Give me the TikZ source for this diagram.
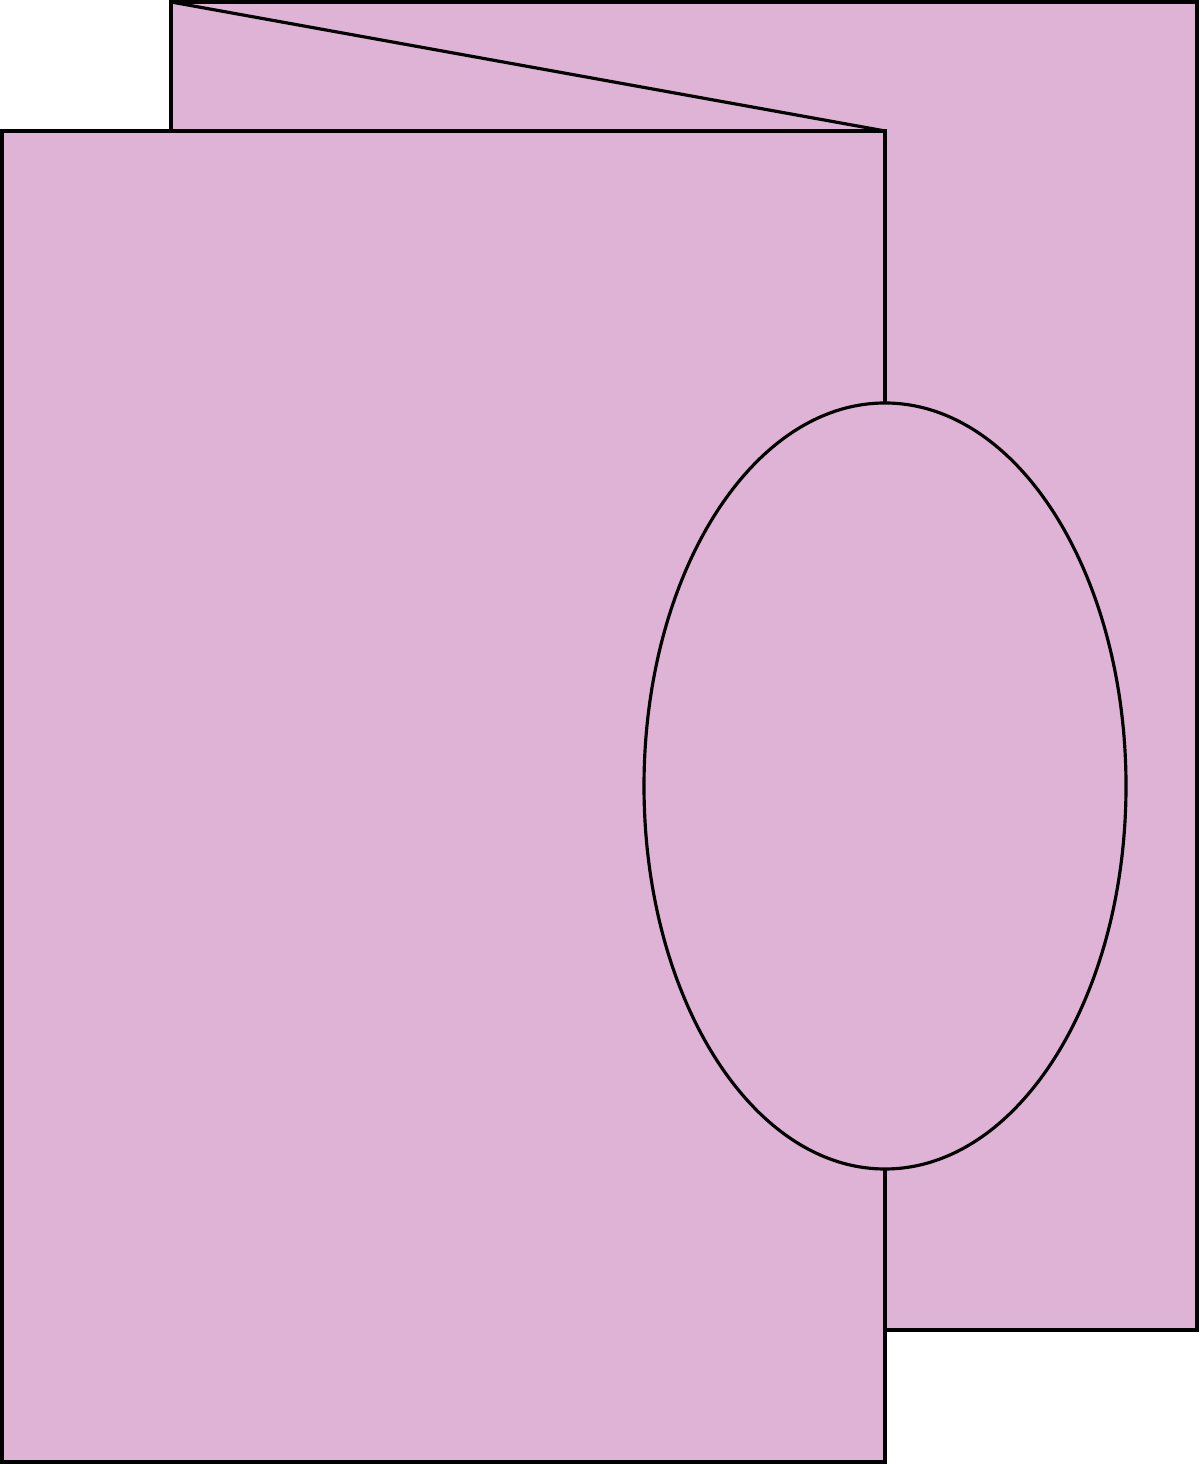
\documentclass[tikz,border=0pt]{standalone}
\usepackage{tikz}
\usetikzlibrary{calc}

\definecolor{cardPink}{HTML}{DEB3D5}

\begin{document}
\begin{tikzpicture}[line width=0.9pt, line join=miter]

	\useasboundingbox (0,0) rectangle (12,14.64);

% Define coordinates.

	%back panel
	\coordinate (backTL) at (1.71, 14.62);
	\coordinate (backBR) at (11.97, 1.34);

	%front panel
	\coordinate (frontTL) at (0.02, 13.33);
	\coordinate (frontTR) at (8.85, 13.33);
	\coordinate (frontBL) at (0.02, 0.02);
	\coordinate (frontBR) at (8.85, 0.02);

	%window
	\coordinate (windowC) at (8.85, 6.78);
	\coordinate (windowTop) at (8.85, 10.61);
	\coordinate (windowBot) at (8.85, 2.95);

% Colour in.

	\fill [fill=cardPink] (backTL) rectangle (backBR);

% Draw lines.

	\draw (backTL) rectangle (backBR);
	\draw (backTL) -- (frontTR);

	\fill [fill=cardPink] (frontBL) rectangle (frontTR);
	\draw (windowTop) -- (frontTR) -- (frontTL) -- (frontBL) -- (frontBR) -- (windowBot);

% Draw window.

	\draw [fill=cardPink] (windowC) ellipse (2.41 and 3.83);

\end{tikzpicture}
\end{document}
